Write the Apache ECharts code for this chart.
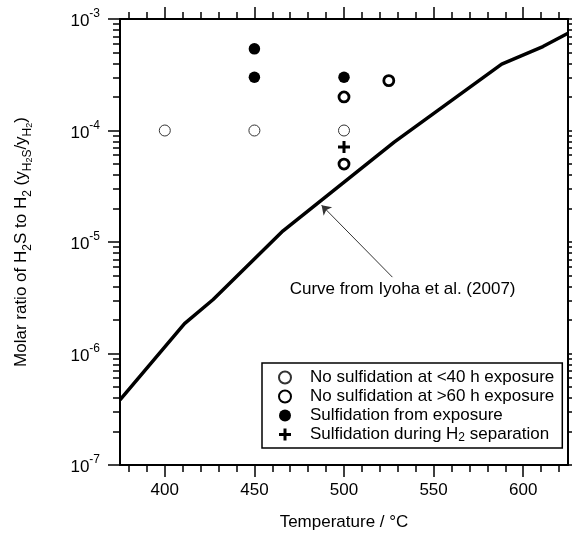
<!DOCTYPE html>
<html><head><meta charset="utf-8">
<script src="https://cdn.jsdelivr.net/npm/echarts@6/dist/echarts.min.js"></script>
<style>html,body{margin:0;padding:0;background:#fff}#c{width:572px;height:536px}</style>
</head><body><div id="c"></div>
<script>
// ---- data ----
const curveT = [375, 411, 427, 466, 528, 588, 611, 625];
const curveRatio = [3.83e-7, 1.85e-6, 3.05e-6, 1.26e-5, 7.87e-5, 3.94e-4, 5.66e-4, 7.45e-4];
const noSulf40T = [400, 450, 500];
const noSulf40Ratio = [1e-4, 1e-4, 1e-4];
const noSulf60T = [500, 500, 525];
const noSulf60Ratio = [2e-4, 5e-5, 2.8e-4];
const sulfExpT = [450, 450, 500];
const sulfExpRatio = [5.4e-4, 3e-4, 3e-4];
const sulfSepT = [500];
const sulfSepRatio = [7.1e-5];
const legendNames = ['No sulfidation at <40 h exposure', 'No sulfidation at >60 h exposure', 'Sulfidation from exposure', 'Sulfidation during H2 separation'];
const legendLabels = ['No sulfidation at <40 h exposure', 'No sulfidation at >60 h exposure', 'Sulfidation from exposure', 'Sulfidation during H{sub|2} separation'];
const xMajorTicks = [400, 450, 500, 550, 600];
const xMinorTicks = [380, 390, 410, 420, 430, 440, 460, 470, 480, 490, 510, 520, 530, 540, 560, 570, 580, 590, 610, 620];
const yMajorTicks = [1e-7, 1e-6, 1e-5, 1e-4, 1e-3];
const yMinorTicks = [2e-7, 3e-7, 4e-7, 5e-7, 6e-7, 7e-7, 8e-7, 9e-7,
  2e-6, 3e-6, 4e-6, 5e-6, 6e-6, 7e-6, 8e-6, 9e-6,
  2e-5, 3e-5, 4e-5, 5e-5, 6e-5, 7e-5, 8e-5, 9e-5,
  2e-4, 3e-4, 4e-4, 5e-4, 6e-4, 7e-4, 8e-4, 9e-4];
const annotationText = 'Curve from Iyoha et al. (2007)';
const arrowFrom = [527, 4.84e-6];
const arrowTo = [487.5, 2.14e-5];
const annotationAt = [532.7, 3.8e-6];

// ---- chart ----
const FONT = 'Liberation Sans, Arial, Helvetica, sans-serif';
const X_MIN = 375, X_MAX = 625, Y_MIN = 1e-7, Y_MAX = 1e-3;
const plusPath = 'path://M4.5,0H7.5V4.5H12V7.5H7.5V12H4.5V7.5H0V4.5H4.5Z';

function xAxisCfg(position, ticks, len, withLabel, withLine) {
  return {
    type: 'value', position: position, min: X_MIN, max: X_MAX,
    axisLine: { show: withLine, onZero: false, lineStyle: { color: '#000', width: 2 } },
    axisTick: { show: true, inside: false, length: len, customValues: ticks, lineStyle: { color: '#000', width: 1.5 } },
    axisLabel: withLabel ? { show: true, customValues: xMajorTicks, margin: 17, fontSize: 17, color: '#000', fontFamily: FONT } : { show: false },
    splitLine: { show: false },
    name: withLabel ? 'Temperature / °C' : '',
    nameLocation: 'middle', nameGap: 49,
    nameTextStyle: { fontSize: 17, color: '#000', fontFamily: FONT }
  };
}
function yAxisCfg(position, ticks, len, withLabel, withLine) {
  return {
    type: 'log', logBase: 10, position: position, min: Y_MIN, max: Y_MAX,
    axisLine: { show: withLine, onZero: false, lineStyle: { color: '#000', width: 2 } },
    axisTick: { show: true, inside: false, length: len, customValues: ticks, lineStyle: { color: '#000', width: 1.5 } },
    axisLabel: withLabel ? {
      show: true, customValues: yMajorTicks, margin: 20,
      formatter: function (v) { return '{b|10}{s|' + Math.round(Math.log10(v)) + '}'; },
      rich: {
        b: { fontSize: 17, lineHeight: 22, color: '#000', fontFamily: FONT, verticalAlign: 'bottom' },
        s: { fontSize: 12, lineHeight: 12, color: '#000', fontFamily: FONT, verticalAlign: 'top' }
      }
    } : { show: false },
    splitLine: { show: false },
    name: withLabel ? 'Molar ratio of H{sub|2}S to H{sub|2} (y{sub|H}{ss|2}{sub|S}/y{sub|H}{ss|2})' : '',
    nameLocation: 'middle', nameGap: 86,
    nameTextStyle: {
      fontSize: 17, color: '#000', fontFamily: FONT, lineHeight: 26,
      rich: {
        sub: { fontSize: 12, lineHeight: 17, verticalAlign: 'bottom', color: '#000', fontFamily: FONT },
        ss: { fontSize: 9, lineHeight: 12, verticalAlign: 'bottom', color: '#000', fontFamily: FONT }
      }
    }
  };
}
function pairs(xs, ys) { return xs.map(function (x, i) { return [x, ys[i]]; }); }

const chart = echarts.init(document.getElementById('c'), null, { renderer: 'canvas' });
chart.setOption({
  animation: false,
  backgroundColor: '#fff',
  textStyle: { fontFamily: FONT },
  grid: { left: 117, right: 4, top: 19, bottom: 69, containLabel: false },
  xAxis: [
    xAxisCfg('bottom', xMajorTicks, 12, true, true),
    xAxisCfg('bottom', xMinorTicks, 7, false, false),
    xAxisCfg('top', xMajorTicks, 12, false, true),
    xAxisCfg('top', xMinorTicks, 7, false, false)
  ],
  yAxis: [
    yAxisCfg('left', yMajorTicks, 12, true, true),
    yAxisCfg('left', yMinorTicks, 7, false, false),
    yAxisCfg('right', yMajorTicks, 12, false, true),
    yAxisCfg('right', yMinorTicks, 7, false, false)
  ],
  legend: {
    show: true, orient: 'vertical', left: 262, top: 363,
    data: legendNames,
    formatter: function (name) { return legendLabels[legendNames.indexOf(name)]; },
    backgroundColor: '#fff', borderColor: '#000', borderWidth: 1.5,
    padding: [5, 8, 4, 16], itemGap: 0, itemWidth: 40, itemHeight: 12,
    selectedMode: false,
    textStyle: {
      fontSize: 17, color: '#000', fontFamily: FONT, lineHeight: 19,
      rich: { sub: { fontSize: 12, lineHeight: 14, verticalAlign: 'bottom', color: '#000', fontFamily: FONT } }
    }
  },
  series: [
    {
      type: 'line', name: 'curve', data: pairs(curveT, curveRatio),
      showSymbol: false, symbol: 'none', silent: true,
      lineStyle: { color: '#000', width: 3.5 },
      z: 2,
      markLine: {
        silent: true, symbol: ['none', 'arrow'], symbolSize: 9,
        lineStyle: { color: '#333', width: 1, type: 'solid' },
        label: { show: false },
        data: [[{ coord: arrowFrom }, { coord: arrowTo }]]
      },
      markPoint: {
        silent: true, symbol: 'circle', symbolSize: 1,
        itemStyle: { color: 'rgba(0,0,0,0)' },
        label: { show: true, position: 'inside', formatter: annotationText, fontSize: 17, color: '#000', fontFamily: FONT },
        data: [{ coord: annotationAt }]
      }
    },
    {
      type: 'scatter', name: legendNames[0], data: pairs(noSulf40T, noSulf40Ratio),
      symbol: 'circle', symbolSize: 11,
      itemStyle: { color: '#fff', borderColor: '#333', borderWidth: 1, opacity: 1 }, z: 3
    },
    {
      type: 'scatter', name: legendNames[1], data: pairs(noSulf60T, noSulf60Ratio),
      symbol: 'circle', symbolSize: 10,
      itemStyle: { color: '#fff', borderColor: '#000', borderWidth: 2.8, opacity: 1 }, z: 3
    },
    {
      type: 'scatter', name: legendNames[2], data: pairs(sulfExpT, sulfExpRatio),
      symbol: 'circle', symbolSize: 11.5,
      itemStyle: { color: '#000', opacity: 1 }, z: 3
    },
    {
      type: 'scatter', name: legendNames[3], data: pairs(sulfSepT, sulfSepRatio),
      symbol: plusPath, symbolSize: 12,
      itemStyle: { color: '#000', opacity: 1 }, z: 3
    }
  ]
});
</script>
</body></html>
